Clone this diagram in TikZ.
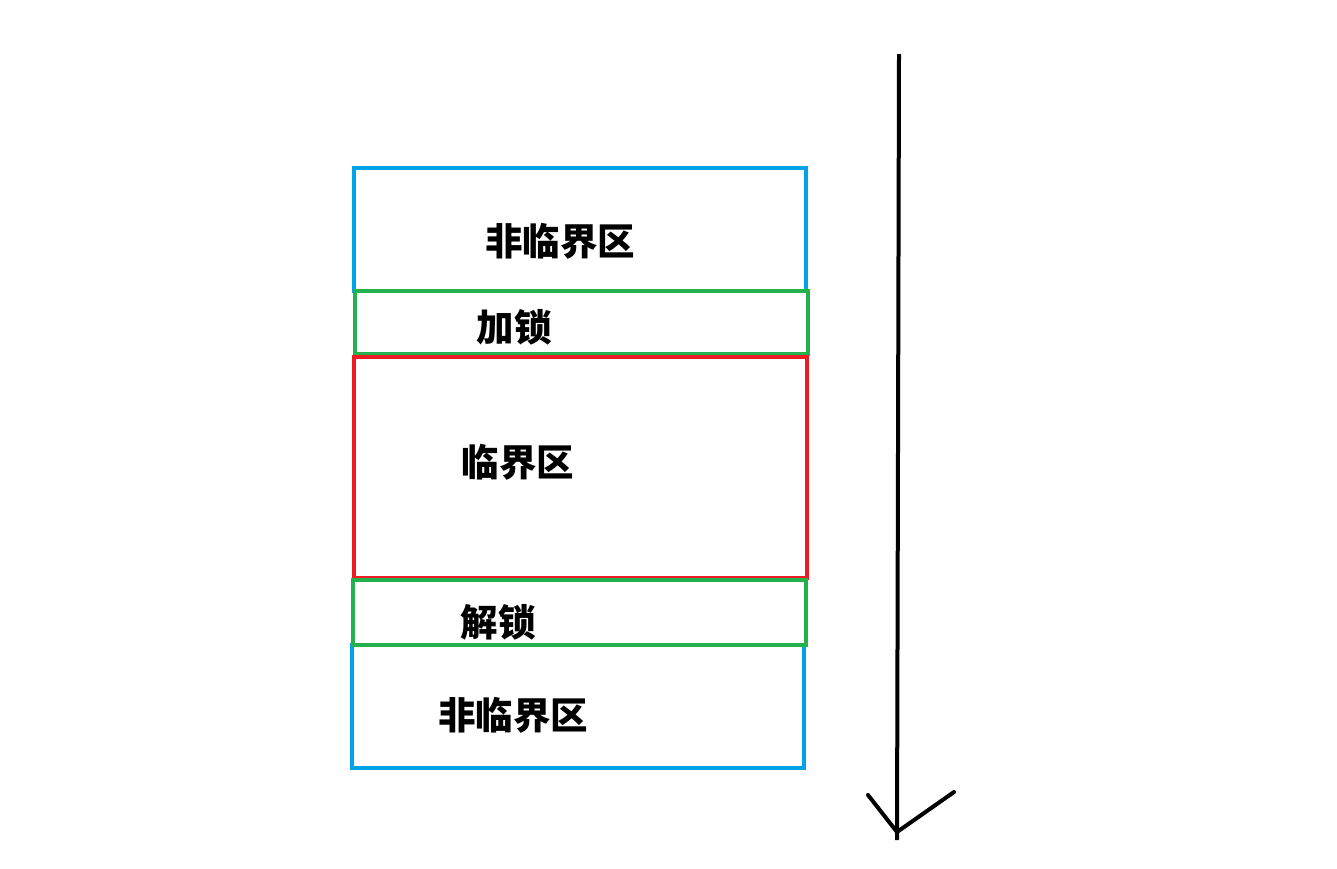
\documentclass[tikz,border=0pt]{standalone}
\usepackage{fontspec}
\newfontfamily\cjk{Noto Sans CJK SC}
\usetikzlibrary{positioning}

\definecolor{paintblue}{HTML}{00A2E8}
\definecolor{paintgreen}{HTML}{22B14C}
\definecolor{paintred}{HTML}{ED1C24}

\begin{document}
\begin{tikzpicture}[
    x=1pt, y=-1pt,
    zona/.style={
        rectangle,
        draw,
        line width=4pt,
        inner sep=0pt,
        minimum width=452pt
    },
    etiqueta/.style={
        font=\cjk\bfseries\fontsize{37.5}{42}\selectfont,
        inner sep=0pt
    },
    flecha/.style={
        line width=4pt,
        line cap=round
    }
]
\useasboundingbox (0,0) rectangle (1337,868);

% Zonas (azul primero, verde encima)
\node (nocrit1) [zona, draw=paintblue, minimum height=123pt] at (580,229.5) {};
\node (nocrit2) [zona, draw=paintblue, minimum height=123pt] at (578,706.5) {};
\node (lock) [zona, draw=paintgreen, minimum width=453pt, minimum height=63pt] at (581.5,322.5) {};
\node (crit) [zona, draw=paintred, minimum width=453pt, minimum height=221pt] at (580.5,467.5) {};
\node (unlock) [zona, draw=paintgreen, minimum width=453pt, minimum height=65pt] at (579.5,612.5) {};

% Textos
\node (t1) [etiqueta] at (560,241) {非临界区};
\node (t2) [etiqueta] at (514,327) {加锁};
\node (t3) [etiqueta] at (518,462) {临界区};
\node (t4) [etiqueta] at (498,622) {解锁};
\node (t5) [etiqueta] at (513,715) {非临界区};

% Flecha de ejecucion
\coordinate (inicio) at (899,54);
\coordinate (fin) at (897,840);
\coordinate (punta) at (897,832);
\coordinate (alaizq) at (868,795);
\coordinate (alader) at (954,792);
\draw[flecha, line cap=butt] (inicio) -- (fin);
\draw[flecha] (alaizq) -- (punta) -- (alader);

\end{tikzpicture}
\end{document}
